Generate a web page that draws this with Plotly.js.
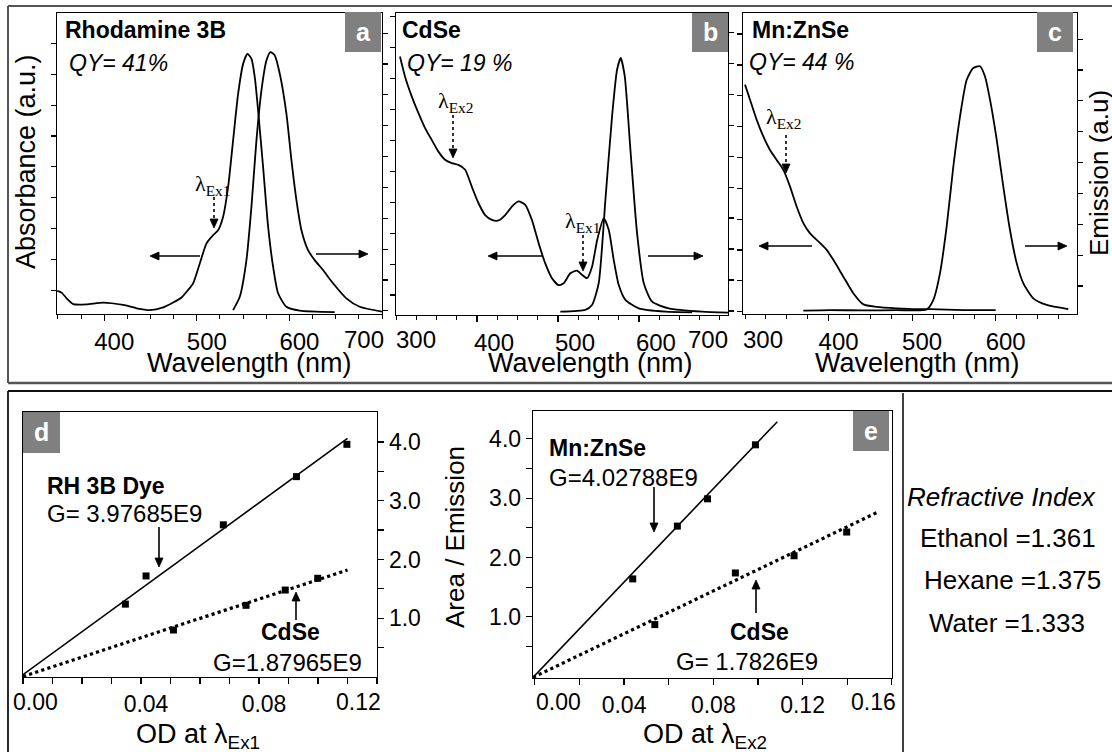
<!DOCTYPE html>
<html>
<head>
<meta charset="utf-8">
<script src="https://cdn.plot.ly/plotly-3.0.1.min.js"></script>
<style>
  html, body { margin: 0; padding: 0; background: #fff; }
  #fig { width: 1112px; height: 752px; }
</style>
</head>
<body>
<div id="fig"></div>
<script>
// ---------- Spectra (normalised, a.u.) ----------
// (a) Rhodamine 3B
const rhoAbsWl = [349.3,354.0,359.4,366.5,380.9,398.9,420.5,434.9,449.3,463.7,474.5,483.5,490.6,496.0,503.2,510.4,517.6,523.0,528.4,533.8,539.2,544.6,550.0,554.7,559.0,562.6,566.2,571.6,577.0,582.4,587.8,596.8,611.2,648.9];
const rhoAbs   = [0.077,0.071,0.052,0.033,0.032,0.038,0.030,0.019,0.013,0.022,0.038,0.055,0.080,0.102,0.168,0.234,0.262,0.278,0.323,0.422,0.577,0.731,0.831,0.864,0.848,0.787,0.676,0.488,0.290,0.157,0.069,0.024,0.011,0.006];
const rhoEmWl  = [539.2,546.4,553.6,559.0,564.4,569.8,575.2,579.5,584.2,589.6,596.8,602.2,607.6,613.0,620.1,627.3,636.3,647.1,661.5,675.9,700.0];
const rhoEm    = [0.013,0.057,0.179,0.356,0.577,0.743,0.842,0.870,0.859,0.798,0.665,0.511,0.378,0.278,0.212,0.179,0.146,0.102,0.052,0.024,0.008];

// (b) CdSe
const cdAbsWl = [304.9,311.1,319.4,327.6,335.9,344.1,352.4,360.6,368.9,377.1,385.4,393.6,401.9,410.1,418.4,426.6,434.8,443.1,451.3,459.6,467.8,476.1,484.3,492.6,500.8,507.0,515.3,523.5,529.7,535.9,542.1,548.5,556.5,562.7,568.9,575.1,583.3,599.8,632.8,665.8];
const cdAbs   = [0.856,0.790,0.724,0.669,0.619,0.580,0.541,0.514,0.503,0.497,0.481,0.425,0.370,0.331,0.315,0.313,0.331,0.359,0.376,0.365,0.315,0.238,0.171,0.122,0.099,0.105,0.138,0.147,0.133,0.122,0.160,0.249,0.320,0.282,0.182,0.099,0.050,0.022,0.011,0.009];
const cdEmWl  = [502.9,533.8,542.1,550.3,558.6,566.8,573.0,577.5,582.5,589.5,597.7,606.0,616.3,636.9,678.1,711.1];
const cdEm    = [0.011,0.017,0.033,0.105,0.381,0.657,0.812,0.851,0.790,0.547,0.271,0.105,0.044,0.022,0.011,0.008];

// (c) Mn:ZnSe
const mnAbsWl = [300.0,306.0,314.0,321.9,329.9,337.9,345.9,353.8,361.8,369.8,377.8,387.8,397.7,405.7,417.7,429.6,441.6,457.6,481.5,505.4,521.4,561.3,600.0];
const mnAbs   = [0.762,0.712,0.645,0.590,0.545,0.512,0.479,0.424,0.357,0.302,0.268,0.241,0.213,0.180,0.124,0.069,0.032,0.024,0.019,0.016,0.016,0.013,0.013];
const mnEmWl  = [369.8,401.7,441.6,481.5,517.4,525.4,533.3,541.3,549.3,557.3,565.3,573.2,581.2,587.2,593.2,601.2,609.1,617.1,625.1,633.1,645.0,661.0,686.9];
const mnEm    = [0.011,0.013,0.012,0.013,0.015,0.047,0.135,0.290,0.490,0.656,0.778,0.817,0.823,0.789,0.712,0.579,0.423,0.279,0.169,0.102,0.052,0.030,0.016];

// ---------- Integrated emission vs optical density ----------
// (d) excitation at λEx1
const odRh    = [0.0347,0.0417,0.0679,0.0927,0.1098];
const areaRh  = [1.24,1.72,2.59,3.41,3.96];
const odCd1   = [0.0510,0.0756,0.0889,0.0999];
const areaCd1 = [0.80,1.22,1.48,1.68];
const fitRhX  = [0.0, 0.1100];
const fitRhY  = [0.04, 4.06];
const fitCd1X = [0.0, 0.1100];
const fitCd1Y = [0.01, 1.82];

// (e) excitation at λEx2
const odMn    = [0.0439,0.0639,0.0774,0.0989];
const areaMn  = [1.64,2.53,2.99,3.90];
const odCd2   = [0.0538,0.0899,0.1162,0.1398];
const areaCd2 = [0.87,1.74,2.03,2.43];
const fitMnX  = [-0.0008, 0.1087];
const fitMnY  = [-0.02, 4.29];
const fitCd2X = [-0.0008, 0.1534];
const fitCd2Y = [-0.02, 2.76];

// ---------- Tick labels and text ----------
const wlLabels   = [400, 500, 600];
const odLabelsD  = [0.04, 0.08];
const odLabelsE  = [0.04, 0.08, 0.12];
const areaLabels = [1.0, 2.0, 3.0, 4.0];
const areaMinor  = [0.5, 1.5, 2.5, 3.5];
const samples    = ['Rhodamine 3B', 'CdSe', 'Mn:ZnSe'];
const qyLabels   = ['QY= 41%', 'QY= 19 %', 'QY= 44 %'];
const panelTags  = ['a', 'b', 'c', 'd', 'e'];
const gainLabels = ['G= 3.97685E9', 'G=1.87965E9', 'G=4.02788E9', 'G= 1.7826E9'];
const solvents   = ['Ethanol =1.361', 'Hexane =1.375', 'Water =1.333'];

// ---------- Helpers ----------
const W = 1112, H = 752;
const SANS = 'Liberation Sans, Arial, sans-serif';
const SERIF = 'Liberation Serif, Times New Roman, serif';
const px = v => v / W;
const py = v => 1 - v / H;
const font = (size, extra) => Object.assign({family: SANS, size: size, color: '#000'}, extra || {});

function label(x, y, text, size, opts) {
  return Object.assign({xref: 'paper', yref: 'paper', x: px(x), y: py(y), text: text,
    showarrow: false, xanchor: 'left', yanchor: 'middle', font: font(size)}, opts || {});
}
function hline(x0, x1, y, color, w) {
  return {type: 'line', xref: 'paper', yref: 'paper', x0: px(x0), x1: px(x1), y0: py(y), y1: py(y), line: {color: color, width: w}};
}
function vline(x, y0, y1, color, w, dash) {
  return {type: 'line', xref: 'paper', yref: 'paper', x0: px(x), x1: px(x), y0: py(y0), y1: py(y1), line: {color: color, width: w, dash: dash || 'solid'}};
}
function tagBox(x0, y0, x1, y1) {
  return {type: 'rect', xref: 'paper', yref: 'paper', x0: px(x0), x1: px(x1), y0: py(y1), y1: py(y0), fillcolor: '#808080', line: {width: 0}};
}
// straight pointer: shaft from tail to the head base, then a filled triangular head
function pointer(hx, hy, tx, ty, dash) {
  const len = Math.hypot(hx - tx, hy - ty), ux = (hx - tx) / len, uy = (hy - ty) / len;
  const L = 9, hw = 4;
  const bx = hx - ux * L, by = hy - uy * L;
  const p1 = [bx - uy * hw, by + ux * hw], p2 = [bx + uy * hw, by - ux * hw];
  const shaft = {type: 'line', xref: 'paper', yref: 'paper', x0: px(tx), y0: py(ty), x1: px(bx), y1: py(by),
    line: {color: '#000', width: 1.6, dash: dash || 'solid'}};
  const head = {type: 'path', xref: 'paper', yref: 'paper', fillcolor: '#000', line: {color: '#000', width: 0.8},
    path: 'M' + px(hx) + ',' + py(hy) + ' L' + px(p1[0]) + ',' + py(p1[1]) + ' L' + px(p2[0]) + ',' + py(p2[1]) + ' Z'};
  return [shaft, head];
}

// ---------- Traces ----------
const specLine = {color: '#000', width: 1.8, shape: 'spline', smoothing: 0.6};
const sq = {symbol: 'square', size: 7, color: '#000'};
const traces = [
  {x: rhoAbsWl, y: rhoAbs, xaxis: 'x',  yaxis: 'y',  mode: 'lines', line: specLine},
  {x: rhoEmWl,  y: rhoEm,  xaxis: 'x',  yaxis: 'y2', mode: 'lines', line: specLine},
  {x: cdAbsWl,  y: cdAbs,  xaxis: 'x2', yaxis: 'y3', mode: 'lines', line: specLine},
  {x: cdEmWl,   y: cdEm,   xaxis: 'x2', yaxis: 'y4', mode: 'lines', line: specLine},
  {x: mnAbsWl,  y: mnAbs,  xaxis: 'x3', yaxis: 'y5', mode: 'lines', line: specLine},
  {x: mnEmWl,   y: mnEm,   xaxis: 'x3', yaxis: 'y6', mode: 'lines', line: specLine},

  {x: fitRhX,  y: fitRhY,  xaxis: 'x4', yaxis: 'y7', mode: 'lines', line: {color: '#000', width: 1.6}},
  {x: fitCd1X, y: fitCd1Y, xaxis: 'x4', yaxis: 'y7', mode: 'lines', line: {color: '#000', width: 3.2, dash: 'dot'}},
  {x: odRh,  y: areaRh,  xaxis: 'x4', yaxis: 'y7', mode: 'markers', marker: sq},
  {x: odCd1, y: areaCd1, xaxis: 'x4', yaxis: 'y7', mode: 'markers', marker: sq},

  {x: fitMnX,  y: fitMnY,  xaxis: 'x5', yaxis: 'y8', mode: 'lines', line: {color: '#000', width: 1.6}},
  {x: fitCd2X, y: fitCd2Y, xaxis: 'x5', yaxis: 'y8', mode: 'lines', line: {color: '#000', width: 3.2, dash: 'dot'}},
  {x: odMn,  y: areaMn,  xaxis: 'x5', yaxis: 'y8', mode: 'markers', marker: sq},
  {x: odCd2, y: areaCd2, xaxis: 'x5', yaxis: 'y8', mode: 'markers', marker: sq}
];

// ---------- Axes ----------
const tickBase = {showline: true, linecolor: '#000', linewidth: 1.3, ticks: 'outside', tickwidth: 1.2,
  tickcolor: '#000', showgrid: false, zeroline: false};

function wlAxis(x0, x1, range, anchor, shift) {
  return Object.assign({}, tickBase, {domain: [px(x0), px(x1)], range: range, anchor: anchor, mirror: true,
    ticklen: 6, tickmode: 'array', tickvals: wlLabels, ticktext: wlLabels.map(String), tickfont: font(24),
    ticklabelshift: shift,
    minor: {tickmode: 'linear', tick0: 0, dtick: 25, ticks: 'outside', ticklen: 4, tickwidth: 1, tickcolor: '#000', showgrid: false}});
}
function spAxis(y0, y1, anchor, side, tick0, overlay) {
  const a = Object.assign({}, tickBase, {domain: [py(y1), py(y0)], range: [0, 1], anchor: anchor, side: side,
    ticklen: 5, tick0: tick0, dtick: 0.1025, showticklabels: false});
  if (overlay) a.overlaying = overlay;
  return a;
}
function odAxis(x0, x1, range, anchor, labels, minorStep, shift) {
  return Object.assign({}, tickBase, {domain: [px(x0), px(x1)], range: range, anchor: anchor, mirror: true,
    ticklen: 6, tickmode: 'array', tickvals: labels, ticktext: labels.map(v => v.toFixed(2)), tickfont: font(23),
    ticklabelshift: shift,
    minor: {tickmode: 'linear', tick0: 0, dtick: minorStep, ticks: 'outside', ticklen: 6, tickwidth: 1.2, tickcolor: '#000', showgrid: false}});
}
function areaAxis(y0, y1, range, anchor, side) {
  return Object.assign({}, tickBase, {domain: [py(y1), py(y0)], range: range, anchor: anchor, side: side, mirror: true,
    ticklen: 6, tickmode: 'array', tickvals: areaLabels, ticktext: areaLabels.map(v => v.toFixed(1)), tickfont: font(23),
    minor: {tickmode: 'array', tickvals: areaMinor, ticks: 'outside', ticklen: 6, tickwidth: 1.2, tickcolor: '#000', showgrid: false}});
}

const edge = (x, y, t, size) => label(x, y, t, size, {xanchor: 'center'});
const lam = (x, y, sub) => label(x, y, 'λ<sub>' + sub + '</sub>', 22, {xanchor: 'center', font: {family: SERIF, size: 22, color: '#000'}});

const shapes = [
  // frames around the two rows
  hline(8, 1112, 6, '#555', 2), vline(8, 6, 383, '#555', 2), hline(8, 1112, 383, '#555', 2.5),
  hline(8, 1112, 391, '#111', 1.8), vline(8, 391, 752, '#111', 1.8), vline(903, 393, 752, '#111', 1.6),
  // panel tags
  tagBox(345, 12, 381, 52), tagBox(692, 13, 728, 52), tagBox(1037, 12, 1073, 52),
  tagBox(23, 412, 60, 453), tagBox(853, 411, 889, 451)
].concat(
  // dotted excitation markers
  pointer(214, 228, 214, 197, 'dot'),
  pointer(453, 158, 453, 115, 'dot'),
  pointer(583, 271, 583, 235, 'dot'),
  pointer(786, 173, 786, 135, 'dot'),
  // absorbance / emission axis pointers
  pointer(150, 256, 200, 256), pointer(368, 254, 316, 254),
  pointer(488, 256, 542, 256), pointer(703, 256, 648, 256),
  pointer(759, 246, 812, 246), pointer(1067, 246, 1025, 246),
  // slope call-outs
  pointer(159, 567, 159, 527), pointer(296, 592, 296, 620),
  pointer(654, 532, 654, 487), pointer(756, 580, 756, 613)
);

const layout = {
  width: W, height: H, margin: {l: 0, r: 0, t: 0, b: 0},
  paper_bgcolor: '#fff', plot_bgcolor: 'rgba(0,0,0,0)', showlegend: false,
  font: {family: SANS, color: '#000'},

  xaxis:  wlAxis(57, 382, [349, 700], 'y', 10),
  yaxis:  spAxis(13, 314, 'x', 'left', 0.079),
  yaxis2: spAxis(13, 314, 'x', 'right', 0.0105, 'y'),

  xaxis2: wlAxis(396, 728, [300, 710], 'y3', 17),
  yaxis3: spAxis(13, 315, 'x2', 'left', 0.066),
  yaxis4: spAxis(13, 315, 'x2', 'right', 0.116, 'y3'),

  xaxis3: wlAxis(743, 1077, [297.6, 697.3], 'y5', 10),
  yaxis5: spAxis(13, 314, 'x3', 'left', 0.11),
  yaxis6: spAxis(13, 314, 'x3', 'right', 0.093, 'y5'),

  xaxis4: odAxis(23, 377, [0, 0.12], 'y7', odLabelsD, 0.01, 5),
  yaxis7: areaAxis(412, 677, [0, 4.51], 'x4', 'right'),

  xaxis5: odAxis(533, 892, [-0.0008, 0.1601], 'y8', odLabelsE, 0.02, 0),
  yaxis8: areaAxis(411, 678, [-0.03, 4.47], 'x5', 'left'),

  shapes: shapes,

  annotations: [
    // end-of-axis tick labels, pulled inside the panel edges
    edge(364, 339, '700', 24),
    edge(416, 339, '300', 24), edge(708, 339, '700', 24),
    edge(763, 339, '300', 24),
    edge(35, 702, '0.00', 23), edge(358, 702, '0.12', 23),
    edge(558, 702, '0.00', 23), edge(873, 702, '0.16', 23),

    // spectra axis titles
    label(26, 162, 'Absorbance (a.u.)', 27, {xanchor: 'center', textangle: -90}),
    label(1099, 173, 'Emission (a.u)', 26, {xanchor: 'center', textangle: -90}),
    label(249, 363, 'Wavelength (nm)', 27, {xanchor: 'center'}),
    label(590, 363, 'Wavelength (nm)', 27, {xanchor: 'center'}),
    label(917, 363, 'Wavelength (nm)', 27, {xanchor: 'center'}),

    // sample names and quantum yields
    label(63, 30, '<b>' + samples[0] + '</b>', 23),
    label(67, 63, '<i>' + qyLabels[0] + '</i>', 23),
    label(400, 30, '<b>' + samples[1] + '</b>', 23),
    label(405, 63, '<i>' + qyLabels[1] + '</i>', 23),
    label(750, 30, '<b>' + samples[2] + '</b>', 23),
    label(747, 62, '<i>' + qyLabels[2] + '</i>', 23),

    // panel tags
    label(363, 32, '<b>' + panelTags[0] + '</b>', 25, {xanchor: 'center', font: font(25, {color: '#fff'})}),
    label(710, 32, '<b>' + panelTags[1] + '</b>', 25, {xanchor: 'center', font: font(25, {color: '#fff'})}),
    label(1055, 32, '<b>' + panelTags[2] + '</b>', 25, {xanchor: 'center', font: font(25, {color: '#fff'})}),
    label(41, 432, '<b>' + panelTags[3] + '</b>', 25, {xanchor: 'center', font: font(25, {color: '#fff'})}),
    label(871, 431, '<b>' + panelTags[4] + '</b>', 25, {xanchor: 'center', font: font(25, {color: '#fff'})}),

    // excitation wavelength labels
    lam(212, 185, 'Ex1'), lam(455, 102, 'Ex2'), lam(582, 222, 'Ex1'), lam(783, 118, 'Ex2'),

    // (d) labels
    label(45, 486, '<b>RH 3B Dye</b>', 23),
    label(45, 513, gainLabels[0], 24),
    label(290, 632, '<b>CdSe</b>', 23, {xanchor: 'center'}),
    label(287, 662, gainLabels[1], 24, {xanchor: 'center'}),
    label(198, 736, 'OD at λ<sub>Ex1</sub>', 27, {xanchor: 'center'}),

    // (e) labels
    label(547, 448, '<b>Mn:ZnSe</b>', 23),
    label(547, 477, gainLabels[2], 24),
    label(759, 632, '<b>CdSe</b>', 23, {xanchor: 'center'}),
    label(747, 661, gainLabels[3], 24, {xanchor: 'center'}),
    label(705, 736, 'OD at λ<sub>Ex2</sub>', 27, {xanchor: 'center'}),
    label(455, 537, 'Area / Emission', 26, {xanchor: 'center', textangle: -90}),

    // solvent refractive indices
    label(905, 497, '<i>Refractive Index</i>', 26),
    label(918, 538, solvents[0], 26),
    label(922, 580, solvents[1], 26),
    label(927, 623, solvents[2], 26)
  ]
};

Plotly.newPlot('fig', traces, layout, {staticPlot: true, displayModeBar: false});
</script>
</body>
</html>
